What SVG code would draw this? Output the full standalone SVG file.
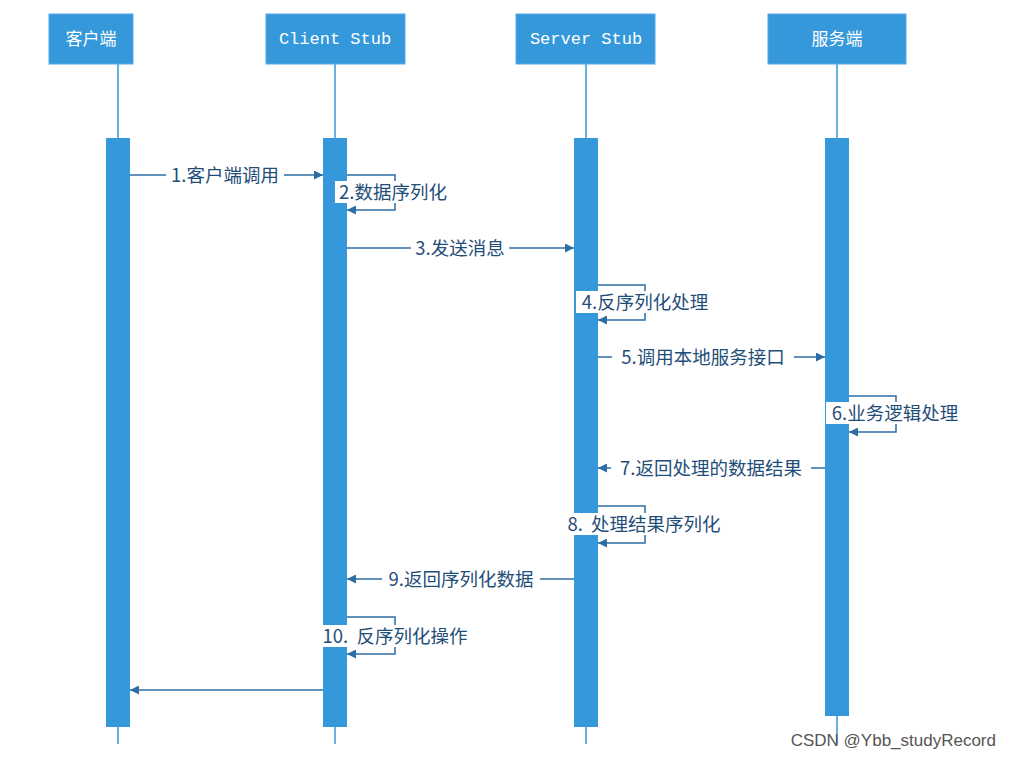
<svg xmlns="http://www.w3.org/2000/svg" width="1010" height="759" viewBox="0 0 1010 759">
<defs>
<marker id="ah" viewBox="0 0 10 10" refX="10" refY="5" markerWidth="9" markerHeight="9" markerUnits="userSpaceOnUse" orient="auto"><path d="M0,0 L10,5 L0,10 z" fill="#2e6da4"/></marker>
<style>
.hdr{fill:#3498db;stroke:#5aa9e6}
.ht{fill:#fff;font-family:"Liberation Mono","Noto Sans CJK SC",monospace;font-size:17px;text-anchor:middle}
.life{stroke:#3498db;stroke-width:1.5}
.bar{fill:#3498db}
.msg{stroke:#2e6da4;stroke-width:1.5;fill:none;marker-end:url(#ah)}
.lb{font-family:"Noto Sans CJK SC",sans-serif;font-size:18.5px;fill:#1f4e79;text-anchor:middle}
.bg{fill:#fff}
</style>
</defs>
<rect width="1010" height="759" fill="#fff"/>
<g id="lifelines">
<line class="life" x1="118" y1="64" x2="118" y2="744"/>
<line class="life" x1="335" y1="64" x2="335" y2="744"/>
<line class="life" x1="586" y1="64" x2="586" y2="744"/>
<line class="life" x1="837" y1="64" x2="837" y2="744"/>
<rect class="bar" x="106" y="138" width="24" height="589"/>
<rect class="bar" x="323" y="138" width="24" height="589"/>
<rect class="bar" x="574" y="138" width="24" height="589"/>
<rect class="bar" x="825" y="138" width="24" height="578"/>
</g>
<g id="n1"><rect class="hdr" x="49" y="14" width="84" height="50"/><text class="ht" x="91" y="45">客户端</text></g>
<g id="n2"><rect class="hdr" x="266" y="14" width="139" height="50"/><text class="ht" x="335" y="44">Client Stub</text></g>
<g id="n3"><rect class="hdr" x="516" y="14" width="139" height="50"/><text class="ht" x="586" y="44">Server Stub</text></g>
<g id="n4"><rect class="hdr" x="768" y="14" width="138" height="50"/><text class="ht" x="837" y="45">服务端</text></g>
<g id="connectors">
<path class="msg" d="M130,175 H323"/>
<rect class="bg" x="166" y="164" width="118" height="22"/><text class="lb" x="225" y="182">1.客户端调用</text>
<path class="msg" d="M347,175 H395 V210 H347"/>
<rect class="bg" x="335" y="181" width="118" height="22"/><text class="lb" x="393" y="199">2.数据序列化</text>
<path class="msg" d="M347,248 H574"/>
<rect class="bg" x="411" y="237" width="98" height="22"/><text class="lb" x="460" y="255">3.发送消息</text>
<path class="msg" d="M598,285 H645 V320 H598"/>
<rect class="bg" x="576" y="291" width="138" height="22"/><text class="lb" x="645" y="309">4.反序列化处理</text>
<path class="msg" d="M598,357 H825"/>
<rect class="bg" x="612" y="346" width="182" height="22"/><text class="lb" x="703" y="364">5.调用本地服务接口</text>
<path class="msg" d="M849,396 H896 V432 H849"/>
<rect class="bg" x="826" y="402" width="138" height="22"/><text class="lb" x="895" y="420">6.业务逻辑处理</text>
<path class="msg" d="M825,468 H598"/>
<rect class="bg" x="611" y="457" width="200" height="22"/><text class="lb" x="711" y="475">7.返回处理的数据结果</text>
<path class="msg" d="M598,506 H645 V543 H598"/>
<rect class="bg" x="560" y="513" width="168" height="22"/><text class="lb" x="644" y="531" xml:space="preserve">8.  处理结果序列化</text>
<path class="msg" d="M574,579 H347"/>
<rect class="bg" x="382" y="568" width="158" height="22"/><text class="lb" x="461" y="586">9.返回序列化数据</text>
<path class="msg" d="M347,617 H395 V654 H347"/>
<rect class="bg" x="316" y="625" width="158" height="22"/><text class="lb" x="395" y="643" xml:space="preserve">10.  反序列化操作</text>
<path class="msg" d="M323,690 H130"/>
</g>
<text x="996" y="746" font-family="Liberation Sans,sans-serif" font-size="17" fill="#555" text-anchor="end">CSDN @Ybb_studyRecord</text>
</svg>
